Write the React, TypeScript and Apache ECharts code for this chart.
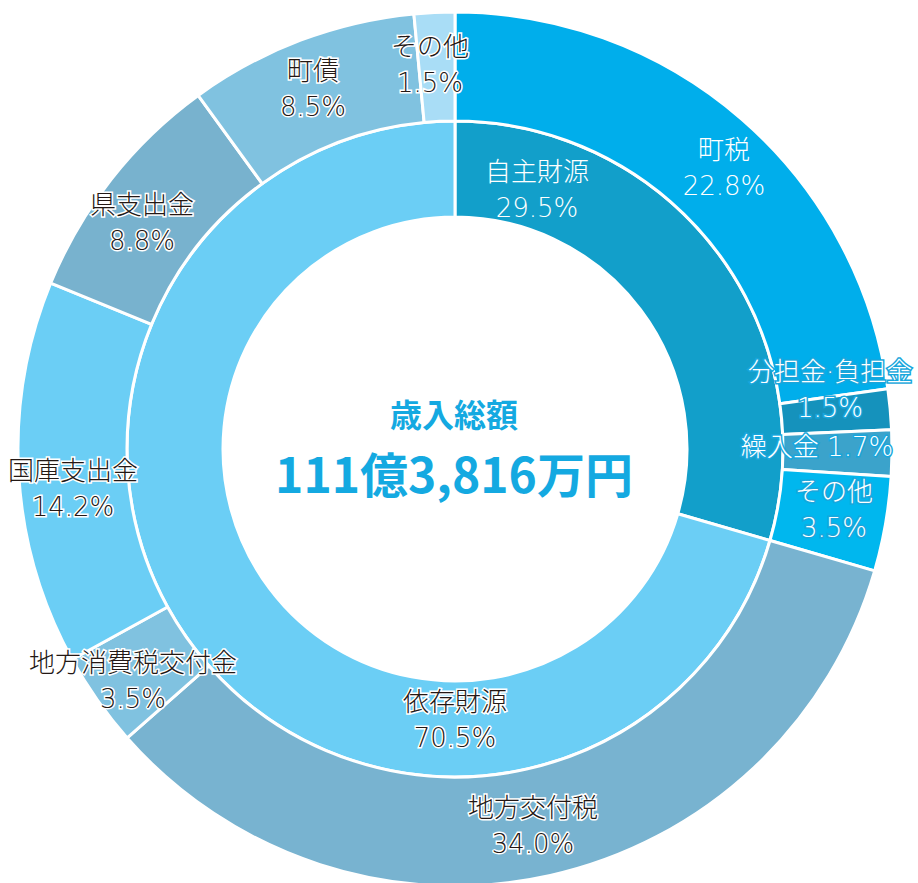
import React, { useEffect, useRef } from "react";
import * as echarts from "echarts";

// Inner ring
const innerNames = ["自主財源", "依存財源"];
const innerValues = [29.5, 70.5];

// Outer ring
const outerNames = [
  "町税",
  "分担金·負担金",
  "繰入金",
  "その他",
  "地方交付税",
  "地方消費税交付金",
  "国庫支出金",
  "県支出金",
  "町債",
  "その他",
];
const outerValues = [22.8, 1.5, 1.7, 3.5, 34.0, 3.5, 14.2, 8.8, 8.5, 1.5];

const centerTitle = "歳入総額";
const centerAmount = "111億3,816万円";

// Styling / layout (not data)
const innerColors = ["#129FCA", "#6BCEF5"];
const outerColors = [
  "#00AEEB",
  "#1592BC",
  "#3BA3CB",
  "#00B7EE",
  "#78B3D0",
  "#80C2E0",
  "#6BCEF5",
  "#78B2CE",
  "#80C2E0",
  "#A9DDF6",
];
// label style kind: 0 dark w/ white outline, 1 white plain, 2 white w/ blue outline
const innerLabelKind = [1, 0];
const outerLabelKind = [1, 2, 2, 2, 0, 0, 0, 0, 0, 0];
const innerLabelPos: number[][] = [
  [537, 190],
  [455, 720],
];
const outerLabelPos: number[][] = [
  [724, 168],
  [830, 390],
  [817, 447],
  [834, 510],
  [533, 826],
  [133, 681],
  [73, 489],
  [142, 223],
  [313, 89],
  [430, 65],
];
const singleLine = [false, false, true, false, false, false, false, false, false, false];

const FONT = '"DejaVu Sans", "Noto Sans CJK JP", sans-serif';
const BOLDFONT = '"Noto Sans CJK JP", "Noto Sans", sans-serif';

function labelStyle(kind: number) {
  if (kind === 0)
    return { color: "#231815", textBorderColor: "#ffffff", textBorderWidth: 3 };
  if (kind === 2)
    return { color: "#ffffff", textBorderColor: "#19A6DC", textBorderWidth: 3 };
  return { color: "#ffffff", textBorderWidth: 0 };
}

export default function App() {
  const ref = useRef<HTMLDivElement>(null);
  useEffect(() => {
    if (!ref.current) return;
    const chart = echarts.init(ref.current, undefined, { renderer: "svg" });
    const center = [455, 449];
    const baseLabel = {
      show: true,
      position: "inside",
      fontFamily: FONT,
      fontSize: 26,
      lineHeight: 36,
      fontWeight: 200,
      align: "center",
      verticalAlign: "middle",
    };
    const innerData = innerNames.map((n, i) => ({
      name: n,
      value: innerValues[i],
      itemStyle: { color: innerColors[i] },
      label: { ...baseLabel, ...labelStyle(innerLabelKind[i]) },
    }));
    const outerData = outerNames.map((n, i) => ({
      name: n,
      value: outerValues[i],
      itemStyle: { color: outerColors[i] },
      label: { ...baseLabel, ...labelStyle(outerLabelKind[i]) },
    }));
    const fmt = (idxSingle: boolean[] | null) => (p: any) => {
      const v = Number(p.value).toFixed(1) + "%";
      if (idxSingle && idxSingle[p.dataIndex]) return p.name + " " + v;
      return p.name + "\n" + v;
    };
    chart.setOption({
      animation: false,
      backgroundColor: "#ffffff",
      series: [
        {
          type: "pie",
          center,
          radius: [232, 328],
          startAngle: 90,
          clockwise: true,
          silent: true,
          itemStyle: { borderColor: "#ffffff", borderWidth: 3 },
          label: { ...baseLabel, formatter: fmt(null) },
          labelLine: { show: false },
          labelLayout: (params: any) => {
            const p = innerLabelPos[params.dataIndex];
            return { x: p[0], y: p[1], align: "center", verticalAlign: "middle" };
          },
          data: innerData,
        },
        {
          type: "pie",
          center,
          radius: [328, 437],
          startAngle: 90,
          clockwise: true,
          silent: true,
          itemStyle: { borderColor: "#ffffff", borderWidth: 3 },
          label: { ...baseLabel, formatter: fmt(singleLine) },
          labelLine: { show: false },
          labelLayout: (params: any) => {
            const p = outerLabelPos[params.dataIndex];
            return { x: p[0], y: p[1], align: "center", verticalAlign: "middle" };
          },
          data: outerData,
        },
      ],
      graphic: [
        {
          type: "text",
          x: 454,
          y: 413,
          style: {
            text: centerTitle,
            fill: "#14A9E1",
            font: `bold 32px ${BOLDFONT}`,
            textAlign: "center",
            textVerticalAlign: "middle",
          },
        },
        {
          type: "text",
          x: 454,
          y: 472,
          style: {
            text: centerAmount,
            fill: "#14A9E1",
            font: `bold 48px ${BOLDFONT}`,
            textAlign: "center",
            textVerticalAlign: "middle",
          },
        },
      ],
    });
    return () => chart.dispose();
  }, []);
  return (
    <div
      ref={ref}
      style={{ position: "absolute", left: 0, top: 0, width: 918, height: 883, background: "#fff" }}
    />
  );
}
